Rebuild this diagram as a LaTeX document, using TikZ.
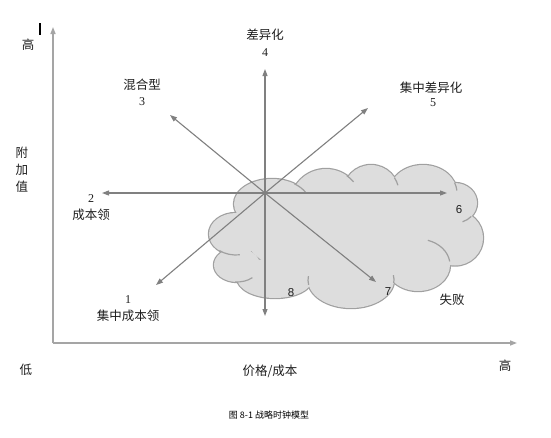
\documentclass[tikz,border=0pt]{standalone}
\usepackage{fontspec}
\setmainfont{Noto Sans CJK SC}
\newfontfamily\numserif{Liberation Serif}
\newfontfamily\numsans{Liberation Sans}
\usetikzlibrary{arrows.meta}
\definecolor{axisgray}{RGB}{165,165,165}
\definecolor{arrowgray}{RGB}{128,128,128}
\definecolor{cloudfill}{RGB}{221,221,221}
\definecolor{cloudline}{RGB}{160,160,160}
\definecolor{txt}{RGB}{30,30,30}
\begin{document}
\begin{tikzpicture}[x=1pt,y=-1pt,
  axisline/.style={draw=axisgray,line width=1.4pt,-{Triangle[length=7pt,width=5pt]}},
  strat/.style={draw=arrowgray,line width=1.1pt,-{Triangle[length=7pt,width=5pt]}},
  lbl/.style={font=\fontsize{12.5}{14}\selectfont,inner sep=0pt,text=txt},
  numa/.style={font=\numserif\fontsize{12}{14}\selectfont,inner sep=0pt,text=txt},
  numb/.style={font=\numsans\fontsize{11.5}{14}\selectfont,inner sep=0pt,text=txt},
  captext/.style={font=\fontsize{9}{11}\selectfont,inner sep=0pt,text=black},
  innerarc/.style={draw=cloudline,line width=1.2pt}
]
\useasboundingbox[fill=white] (0,0) rectangle (551,437);

% cloud: union of lobes
\def\lobes{272/204/38pt/25pt,326/205/36pt/36pt,371/193/28pt/28pt,423/193/34pt/28pt,
  455/203/22pt/20pt,455/238/28pt/27.5pt,418/265/32pt/26pt,351/280/43pt/28pt,
  275/278/38pt/20pt,237/265/23pt/17pt,236/234/27pt/21pt}
\foreach \cx/\cy/\rx/\ry in \lobes
  \draw[cloudline,line width=2.4pt] (\cx,\cy) ellipse [x radius=\rx, y radius=\ry];
\foreach \cx/\cy/\rx/\ry in \lobes
  \fill[cloudfill] (\cx,\cy) ellipse [x radius=\rx, y radius=\ry];
\fill[cloudfill] (345,235) ellipse [x radius=100pt, y radius=45pt];
% inner arcs of the cloud
\foreach \cx/\cy/\rx/\ry/\a/\b in {272/204/38pt/25pt/54/28, 326/205/36pt/36pt/55/40,
  371/193/28pt/28pt/33/16, 423/193/34pt/28pt/21/5, 455/203/22pt/20pt/-42/-70,
  418/265/32pt/26pt/72/8, 351/280/43pt/28pt/-6/10, 351/280/43pt/28pt/190/172,
  237/265/23pt/17pt/-95/-48, 236/234/27pt/21pt/-128/-82}
  \draw[innerarc] (\cx,\cy) ++(\a:{\rx} and {\ry}) arc[start angle=\a, end angle=\b, x radius=\rx, y radius=\ry];

% axes
\coordinate (orig) at (53,343);
\coordinate (ytip) at (53,27);
\coordinate (xtip) at (517,343);
\draw[axisline] (orig) -- (ytip);
\draw[axisline] (orig) -- (xtip);
\coordinate (bar1) at (40,23);
\coordinate (bar2) at (40,35);
\draw[black,line width=1.6pt] (bar1) -- (bar2);

% strategy arrows
\coordinate (o) at (265,193);
\coordinate (t1) at (156,285);
\coordinate (t2) at (102,193);
\coordinate (t3) at (170,115);
\coordinate (t4) at (265,69);
\coordinate (t5) at (368,108);
\coordinate (t6) at (447,193);
\coordinate (t7) at (376,282);
\coordinate (t8) at (265,316);
\foreach \t in {t1,t2,t3,t4,t5,t6,t7,t8} \draw[strat] (o) -- (\t);

% labels
\node[lbl] (yhi) at (28,45) {高};
\node[lbl] (yv1) at (22,153) {附};
\node[lbl] (yv2) at (22,170) {加};
\node[lbl] (yv3) at (22,187) {值};
\node[lbl] (xlo) at (26,370) {低};
\node[lbl] (xlab) at (270,371) {价格/成本};
\node[lbl] (xhi) at (505,366) {高};

\node[lbl] (s4) at (265,35) {差异化};
\node[numa] (n4) at (265,53) {4};
\node[lbl] (s3) at (142,85) {混合型};
\node[numa] (n3) at (142,102) {3};
\node[lbl] (s5) at (431,88) {集中差异化};
\node[numa] (n5) at (433,103) {5};
\node[numa] (n2) at (91,199) {2};
\node[lbl] (s2) at (91,215) {成本领};
\node[numa] (n1) at (128,300) {1};
\node[lbl] (s1) at (128,316) {集中成本领};
\node[numb] (n6) at (459,210) {6};
\node[numb] (n8) at (291,293) {8};
\node[numb] (n7) at (388,292) {7};
\node[lbl] (s7) at (452,300) {失败};

\node[captext] (caption) at (269,415) {图 8-1 战略时钟模型};
\end{tikzpicture}
\end{document}
